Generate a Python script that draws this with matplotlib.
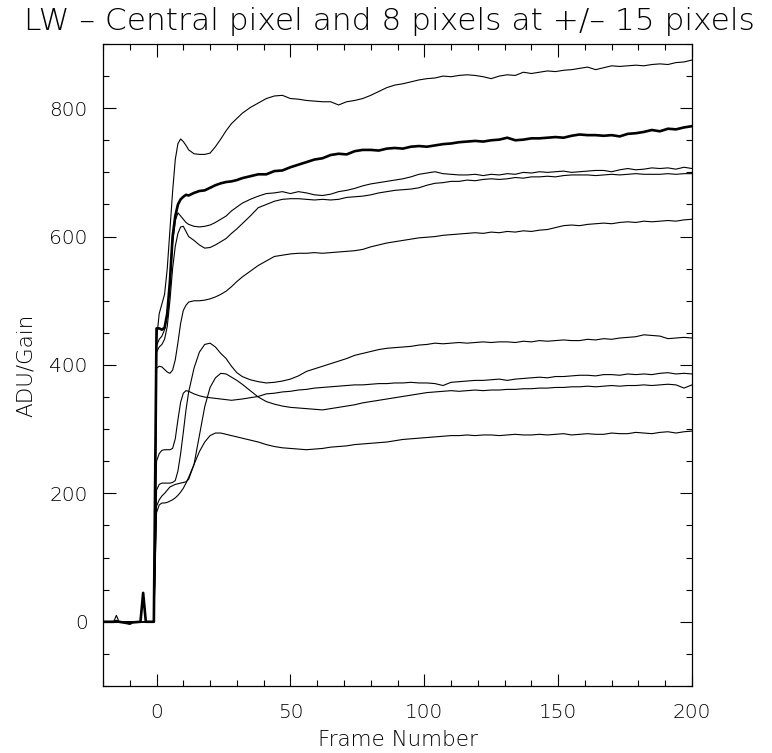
import matplotlib
matplotlib.use("Agg")
import matplotlib.pyplot as plt
from matplotlib.ticker import MultipleLocator

# ---- data -------------------------------------------------------------
frames = ([-20, -16, -15, -14, -11, -10, -9, -6, -5, -4, -1]
          + list(range(0, 13)) + list(range(14, 33, 2))
          + list(range(35, 198, 3)) + [200])

base_thin = [0, 0, 0, 0, 0, 0, 0, 0, 0, 0, 0]
base_spike = [0, 0, 10, 0, 0, 0, 0, 0, 0, 0, 0]
base_central = [0, 0, 1, 0, -2, -3, -1, 0, 45, 0, 0]

central = [457, 457, 455, 458, 480, 530, 600, 632, 650, 658, 662, 665, 664,
           668, 671, 672, 676, 680, 683, 685, 686, 688, 691,
           694, 697, 697, 702, 703, 708, 712, 716, 720, 722, 727, 729, 728, 733, 735, 735, 734, 737, 738,
           737, 740, 741, 740, 742, 744, 745, 747, 748, 749, 748, 750, 751, 754, 750, 751, 753, 753, 754,
           755, 754, 757, 759, 758, 758, 757, 758, 756, 760, 761, 763, 766, 764, 768, 767, 770, 772]

pix_a = [440, 480, 495, 510, 550, 610, 670, 720, 745, 752, 748, 742, 735,
         729, 728, 728, 730, 740, 752, 765, 776, 784, 792,
         801, 808, 815, 819, 820, 815, 814, 812, 811, 810, 810, 805, 810, 812, 815, 820, 826, 832, 836,
         838, 841, 844, 846, 847, 850, 849, 851, 852, 851, 849, 846, 850, 852, 851, 856, 854, 856, 858,
         857, 859, 860, 862, 864, 860, 863, 866, 865, 866, 867, 866, 868, 869, 868, 871, 872, 875]

pix_c = [430, 440, 445, 455, 480, 530, 590, 625, 637, 632, 627, 622, 619,
         616, 615, 616, 618, 622, 627, 632, 640, 646, 652,
         658, 663, 667, 668, 670, 667, 670, 668, 665, 664, 666, 670, 672, 675, 679, 682, 684, 686, 688,
         690, 693, 697, 699, 701, 698, 697, 696, 696, 697, 695, 697, 696, 698, 697, 700, 699, 701, 700,
         701, 702, 700, 701, 702, 703, 703, 701, 704, 706, 704, 705, 707, 706, 707, 705, 708, 706]

pix_d = [420, 428, 432, 440, 460, 500, 550, 585, 605, 615, 616, 608, 600,
         594, 587, 582, 583, 587, 592, 597, 605, 612, 620,
         632, 645, 650, 655, 658, 659, 659, 658, 657, 658, 657, 658, 661, 662, 663, 665, 668, 670, 672,
         673, 674, 676, 680, 683, 684, 686, 686, 688, 687, 689, 690, 689, 690, 692, 691, 693, 693, 694,
         693, 695, 696, 696, 696, 695, 696, 697, 696, 697, 698, 697, 697, 697, 698, 697, 698, 698]

pix_e = [395, 398, 397, 393, 389, 387, 392, 408, 435, 465, 485, 493, 498,
         500, 500, 501, 503, 506, 510, 515, 522, 530, 537,
         546, 555, 562, 569, 571, 573, 574, 574, 575, 574, 575, 576, 577, 578, 580, 584, 587, 590, 592,
         594, 596, 598, 599, 600, 602, 603, 604, 605, 606, 605, 607, 606, 608, 607, 609, 608, 610, 611,
         614, 617, 618, 617, 619, 620, 621, 620, 622, 623, 622, 624, 623, 624, 625, 624, 626, 627]

pix_f = [205, 214, 216, 216, 216, 216, 217, 220, 235, 262, 295, 330, 358,
         395, 420, 432, 434, 428, 418, 410, 398, 388, 382,
         377, 374, 372, 373, 375, 378, 383, 390, 394, 398, 402, 406, 410, 415, 418, 421, 424, 426, 427,
         428, 429, 431, 432, 434, 433, 434, 435, 434, 435, 436, 435, 436, 436, 435, 437, 436, 438, 437,
         438, 439, 438, 438, 440, 439, 441, 440, 442, 443, 444, 447, 446, 445, 441, 442, 443, 442]

pix_g = [250, 262, 267, 268, 268, 268, 270, 285, 315, 342, 356, 360, 359,
         355, 352, 350, 349, 348, 347, 346, 345, 346, 347,
         349, 351, 355, 356, 358, 359, 361, 362, 364, 365, 366, 367, 368, 369, 369, 370, 371, 371, 372,
         372, 373, 372, 372, 371, 368, 373, 374, 375, 376, 376, 377, 378, 376, 378, 379, 380, 381, 380,
         382, 382, 383, 384, 384, 383, 385, 385, 384, 386, 385, 386, 385, 387, 388, 386, 387, 386]

pix_h = [180, 190, 196, 200, 205, 210, 212, 214, 215, 216, 217, 218, 222,
         245, 290, 335, 365, 380, 387, 386, 381, 376, 370,
         360, 350, 343, 339, 336, 334, 333, 332, 331, 330, 332, 334, 336, 338, 341, 343, 345, 347, 349,
         351, 353, 355, 357, 358, 359, 360, 359, 360, 361, 360, 361, 361, 362, 362, 363, 363, 364, 364,
         365, 365, 366, 366, 367, 366, 367, 368, 367, 368, 368, 369, 368, 369, 370, 369, 364, 369]

pix_i = [170, 182, 185, 185, 186, 188, 190, 193, 197, 202, 208, 216, 225,
         245, 265, 280, 290, 294, 294, 292, 290, 288, 286,
         283, 280, 276, 273, 271, 270, 269, 268, 269, 270, 272, 273, 274, 276, 277, 278, 279, 280, 282,
         284, 285, 286, 287, 288, 289, 290, 290, 291, 290, 291, 291, 290, 291, 292, 291, 291, 292, 291,
         292, 293, 291, 292, 293, 292, 292, 294, 293, 293, 295, 294, 293, 295, 296, 294, 296, 297]

thin_curves = [
    (base_thin, pix_a), (base_thin, pix_c), (base_thin, pix_d), (base_thin, pix_e),
    (base_thin, pix_f), (base_thin, pix_g), (base_thin, pix_h), (base_spike, pix_i),
]

title = "LW \u2013 Central pixel and 8 pixels at +/\u2013 15 pixels"
xlabel = "Frame Number"
ylabel = "ADU/Gain"
xticks = [0, 50, 100, 150, 200]
yticks = [0, 200, 400, 600, 800]

# ---- figure -----------------------------------------------------------
plt.rcParams["font.family"] = ["DejaVu Sans"]
plt.rcParams["font.weight"] = 200
fig = plt.figure(figsize=(7.72, 7.53), dpi=100)
ax = fig.add_axes([0.1334, 0.089, 0.763, 0.8526])

for base, vals in thin_curves:
    ax.plot(frames, base + vals, color="black", lw=0.8)
ax.plot(frames, base_central + central, color="black", lw=1.9)

ax.set_xlim(-20, 200)
ax.set_ylim(-100, 900)
ax.set_xticks(xticks)
ax.set_yticks(yticks)
ax.xaxis.set_minor_locator(MultipleLocator(10))
ax.yaxis.set_minor_locator(MultipleLocator(50))
ax.tick_params(which="both", direction="in", top=True, right=True,
               labelsize=14.5, width=0.8, color="black", labelcolor="black")
ax.tick_params(axis="x", which="major", length=9, pad=12)
ax.tick_params(axis="y", which="major", length=9, pad=11)
ax.tick_params(which="minor", length=4.5)
for s in ax.spines.values():
    s.set_linewidth(0.9)

ax.set_xlabel(xlabel, fontsize=15.5, labelpad=6, fontweight=200, color="black")
ax.set_ylabel(ylabel, fontsize=15.5, labelpad=10, fontweight=200, color="black")
fig.text(0.505, 0.971, title, ha="center", va="center", fontsize=22.5,
         fontweight=200, color="black")

fig.savefig("out.png", dpi=100)
